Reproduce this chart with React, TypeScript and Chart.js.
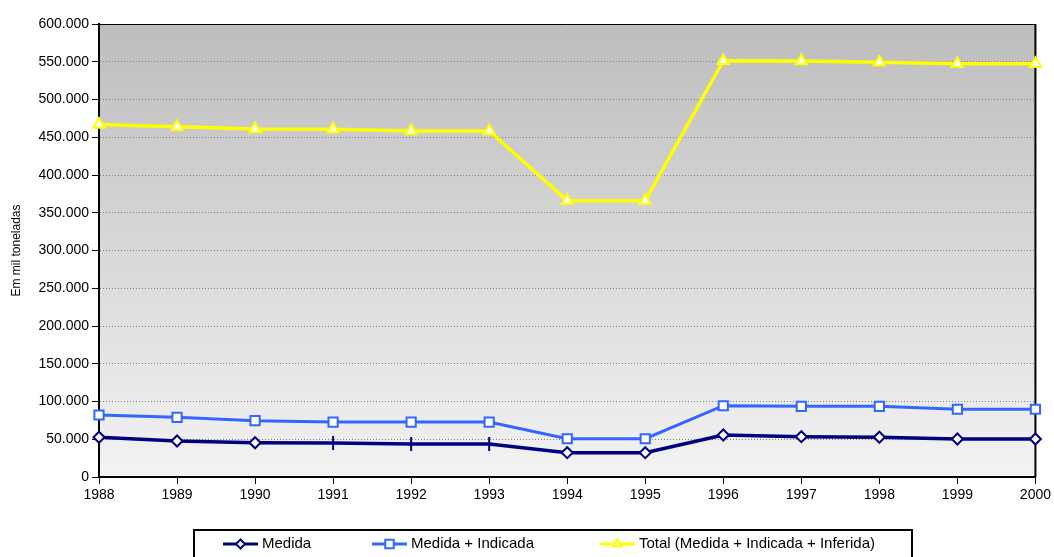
import React, { useEffect, useRef } from "react";
import { Chart, registerables } from "chart.js";
import { drawPoint } from "chart.js/helpers";

Chart.register(...registerables);

// Reservas (em mil toneladas), 1988–2000
const years = ["1988", "1989", "1990", "1991", "1992", "1993", "1994", "1995", "1996", "1997", "1998", "1999", "2000"];
const medida = [52600, 47700, 45400, 45000, 43700, 43700, 32200, 32200, 55600, 53400, 52600, 50300, 50300];
const medidaIndicada = [82100, 79000, 74600, 72800, 72800, 72800, 50700, 50700, 94400, 93600, 93600, 89700, 89700];
const total = [466900, 464000, 461000, 460500, 458300, 458300, 366000, 366000, 551400, 551000, 549300, 547500, 547500];
const seriesNames = ["Medida", "Medida + Indicada", "Total (Medida + Indicada + Inferida)"];
const axisTitle = "Em mil toneladas";

const yMin = 0;
const yMax = 600000;
const yStep = 50000;

const FONT = "'Liberation Sans', Arial, sans-serif";
const NAVY = "#000080";
const BLUE = "#3366ff";
const YELLOW = "#ffff00";

// Medida points drawn with a vertical dash instead of a diamond
const dashPoints = [3, 4, 5];

const fmt = (v: number) => String(v).replace(/\B(?=(\d{3})+(?!\d))/g, ".");

const plotBackground = {
  id: "plotBackground",
  beforeDraw(chart: any) {
    const { ctx, chartArea: a } = chart;
    const g = ctx.createLinearGradient(0, a.top, 0, a.bottom);
    g.addColorStop(0, "#bdbdbd");
    g.addColorStop(1, "#f3f3f3");
    ctx.save();
    ctx.fillStyle = g;
    ctx.fillRect(a.left, a.top, a.right - a.left, a.bottom - a.top);
    ctx.restore();
  },
  beforeDatasetsDraw(chart: any) {
    const { ctx, chartArea: a } = chart;
    ctx.save();
    ctx.strokeStyle = "#000";
    ctx.lineWidth = 1;
    ctx.beginPath();
    ctx.moveTo(a.left, a.top + 0.5);
    ctx.lineTo(a.right, a.top + 0.5);
    ctx.stroke();
    ctx.lineWidth = 2;
    ctx.beginPath();
    ctx.moveTo(a.right, a.top);
    ctx.lineTo(a.right, a.bottom);
    ctx.stroke();
    ctx.restore();
  },
};

const legendStyles = [
  { pointStyle: "rectRot", radius: 4.5 },
  { pointStyle: "rect", radius: 6 },
  { pointStyle: "triangle", radius: 5 },
];

const boxLegend = {
  id: "boxLegend",
  afterDraw(chart: any) {
    const { ctx } = chart;
    ctx.save();
    ctx.strokeStyle = "#000";
    ctx.lineWidth = 2;
    ctx.strokeRect(194, 530, 718, 40);
    const xs = [223, 372, 600];
    const y = 544;
    chart.data.datasets.forEach((ds: any, i: number) => {
      const x0 = xs[i];
      ctx.strokeStyle = ds.borderColor;
      ctx.lineWidth = 3;
      ctx.beginPath();
      ctx.moveTo(x0, y);
      ctx.lineTo(x0 + 35, y);
      ctx.stroke();
      ctx.fillStyle = "#fff";
      ctx.lineWidth = 2;
      drawPoint(ctx, { pointStyle: legendStyles[i].pointStyle, radius: legendStyles[i].radius, borderWidth: 2, rotation: 0 } as any, x0 + 17.5, y);
      ctx.fillStyle = "#000";
      ctx.font = `15px ${FONT}`;
      ctx.textBaseline = "middle";
      ctx.textAlign = "left";
      ctx.fillText(ds.label, x0 + 39, y);
    });
    ctx.restore();
  },
};

export default function App() {
  const ref = useRef<HTMLCanvasElement | null>(null);

  useEffect(() => {
    if (!ref.current) return;
    const chart = new Chart(ref.current, {
      type: "line",
      data: {
        labels: years,
        datasets: [
          {
            label: seriesNames[0],
            data: medida,
            borderColor: NAVY,
            backgroundColor: "#fff",
            borderWidth: 3.5,
            pointStyle: (c: any) => (dashPoints.includes(c.dataIndex) ? "line" : "rectRot"),
            pointRotation: (c: any) => (dashPoints.includes(c.dataIndex) ? 90 : 0),
            pointRadius: (c: any) => (dashPoints.includes(c.dataIndex) ? 7 : 5.5),
            pointBorderWidth: 2,
            pointBackgroundColor: "#fff",
            pointBorderColor: NAVY,
            tension: 0,
            clip: false,
          } as any,
          {
            label: seriesNames[1],
            data: medidaIndicada,
            borderColor: BLUE,
            backgroundColor: "#fff",
            borderWidth: 3,
            pointStyle: "rect",
            pointRadius: 6.5,
            pointBorderWidth: 2,
            pointBackgroundColor: "#fff",
            pointBorderColor: BLUE,
            tension: 0,
            clip: false,
          } as any,
          {
            label: seriesNames[2],
            data: total,
            borderColor: YELLOW,
            backgroundColor: "#fff",
            borderWidth: 3.5,
            pointStyle: "triangle",
            pointRadius: 6.5,
            pointBorderWidth: 2,
            pointBackgroundColor: "#fff",
            pointBorderColor: YELLOW,
            tension: 0,
            clip: false,
          } as any,
        ],
      },
      options: {
        responsive: false,
        animation: false,
        events: [],
        layout: { padding: { top: 24, right: 18, left: 0, bottom: 0 } },
        plugins: { legend: { display: false }, tooltip: { enabled: false } },
        scales: {
          x: {
            type: "category",
            offset: false,
            grid: { display: true, drawOnChartArea: false, drawTicks: true, tickLength: 7, tickColor: "#000", tickWidth: 1 },
            border: { display: true, color: "#000", width: 2 },
            ticks: { color: "#000", font: { family: FONT, size: 14 }, padding: 3, maxRotation: 0, autoSkip: false },
            afterFit: (s: any) => {
              s.height = 80;
            },
          },
          y: {
            min: yMin,
            max: yMax,
            ticks: { stepSize: yStep, color: "#000", font: { family: FONT, size: 14 }, padding: 3, callback: (v: any) => fmt(Number(v)) },
            grid: { color: "#808080", lineWidth: 1, tickColor: "#000", tickLength: 7, tickWidth: 1, tickBorderDash: [] },
            border: { display: true, color: "#000", width: 2, dash: [1, 2] },
            title: { display: true, text: axisTitle, color: "#000", font: { family: FONT, size: 12 }, padding: { top: 9, bottom: 0 } },
            afterFit: (s: any) => {
              s.width = 99;
            },
          },
        },
      } as any,
      plugins: [plotBackground, boxLegend],
    });
    return () => chart.destroy();
  }, []);

  return (
    <div style={{ position: "fixed", left: 0, top: 0, width: 1054, height: 557, background: "#fff" }}>
      <canvas ref={ref} width={1054} height={557} />
    </div>
  );
}
